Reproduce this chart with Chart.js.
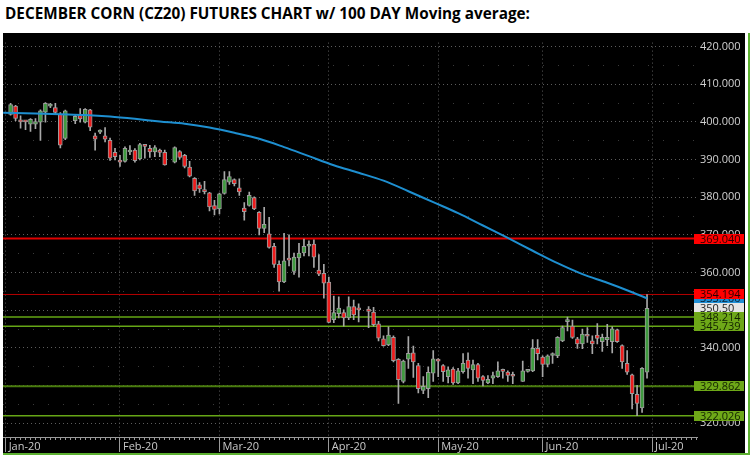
<!DOCTYPE html>
<html>
<head>
<meta charset="utf-8">
<script src="https://cdn.jsdelivr.net/npm/chart.js@4.4.0/dist/chart.umd.min.js"></script>
<style>
  html, body { margin: 0; padding: 0; background: #fff; }
  body { width: 753px; height: 461px; position: relative; overflow: hidden; }
  #title { position: absolute; left: 5px; top: 3px; font: bold 15.3px "Open Sans", sans-serif; color: #000; white-space: nowrap; }
  #panel { position: absolute; left: 3px; top: 33px; width: 742px; height: 420px; background: #000; }
  #edgeR { position: absolute; left: 748px; top: 33px; width: 2px; height: 422px; background: #5cb030; }
  #edgeB { position: absolute; left: 3px; top: 453px; width: 747px; height: 2px; background: #5cb030; }
</style>
</head>
<body>
<div id="title">DECEMBER CORN (CZ20) FUTURES CHART w/ 100 DAY Moving average:</div>
<div id="panel"><canvas id="chart" width="742" height="420"></canvas></div>
<div id="edgeR"></div>
<div id="edgeB"></div>
<script>
// one slot per weekday from Jan 2 2020 to Jun 30 2020, null = exchange holiday
const opens = [
  402.0, 404.2, 400.2, 400.1, 399.4, 399.4, 399.9, 402.6, 404.2, 403.8,
  402.0, 395.6, null, 400.3, 402.0, 399.9, 403.2, 396.3, 397.3, 396.3,
  395.1, 391.9, 389.7, 389.5, 392.0, 392.5, 390.2, 393.8, 393.0, 392.0,
  392.5, 391.9, null, 389.3, 392.1, 391.1, 388.0, 385.0, 383.3, 381.9,
  381.2, 377.8, 376.9, 381.0, 384.0, 384.7, 382.5, 377.1, 377.8, 379.9,
  376.0, 371.7, 370.3, 367.0, 362.2, 357.5, 363.6, 360.3, 363.9, 365.2,
  367.0, 367.6, 360.7, 359.8, 357.5, 347.5, 349.1, 349.4, 348.0, 351.0,
  350.6, null, 350.3, 349.5, 346.4, 342.4, 340.8, 342.8, 337.0, 331.1,
  337.0, 338.7, 335.3, 328.7, 329.2, 333.3, 337.0, 335.3, 332.4, 334.4,
  330.7, 333.7, 336.8, 334.2, 335.6, 332.4, 330.7, 332.0, 332.4, 334.3,
  333.6, 332.7, null, 331.1, 333.8, 333.9, 339.9, 337.6, 335.6, 338.0,
  337.9, 341.9, 347.0, 345.8, 342.4, 341.1, 343.2, 341.9, 343.4, 341.7,
  342.2, 341.7, 344.8, 340.6, 335.9, 332.9, 327.7, 324.1, 333.6
];
const highs = [
  404.9, 404.4, 401.6, 400.3, 400.9, 400.9, 403.2, 405.1, 404.9, 404.9,
  402.5, 403.1, null, 402.0, 403.5, 403.5, 403.3, 397.0, 397.9, 398.5,
  395.7, 393.0, 391.1, 393.4, 393.7, 392.9, 394.3, 394.0, 393.8, 393.7,
  392.8, 392.5, null, 393.4, 392.4, 391.4, 389.5, 385.2, 383.9, 384.2,
  381.3, 379.2, 381.1, 386.8, 386.8, 384.9, 384.9, 378.6, 381.4, 380.1,
  376.2, 377.3, 374.7, 367.8, 363.1, 370.4, 370.0, 365.2, 367.8, 368.9,
  368.4, 368.7, 364.8, 362.2, 358.8, 353.8, 353.6, 350.1, 353.6, 352.7,
  351.7, null, 351.0, 350.8, 347.1, 343.2, 345.6, 343.2, 337.2, 336.8,
  343.0, 340.5, 335.9, 332.4, 335.0, 339.3, 337.2, 335.6, 335.0, 334.8,
  334.6, 338.5, 338.7, 336.8, 335.9, 332.7, 332.7, 333.6, 336.3, 334.4,
  333.9, 333.6, null, 336.5, 334.2, 342.2, 342.2, 337.9, 338.2, 338.7,
  343.0, 345.8, 348.2, 347.4, 342.8, 345.0, 345.4, 343.2, 346.5, 343.7,
  346.3, 345.6, 345.0, 340.8, 339.3, 333.1, 330.1, 334.8, 354.2
];
const lows = [
  401.8, 400.3, 398.3, 397.9, 397.5, 398.2, 395.1, 399.9, 403.8, 402.0,
  393.1, 395.3, null, 399.5, 399.9, 399.7, 397.7, 392.5, 396.9, 394.7,
  389.8, 389.9, 388.2, 389.3, 391.3, 389.3, 389.9, 390.4, 390.6, 390.8,
  390.8, 388.5, null, 389.1, 390.1, 387.8, 385.4, 380.5, 381.3, 380.9,
  376.4, 375.3, 375.6, 380.8, 383.4, 383.0, 380.5, 373.9, 377.6, 376.7,
  370.0, 370.6, 366.5, 361.4, 355.1, 357.3, 361.8, 359.5, 358.8, 364.4,
  364.4, 361.4, 359.2, 353.2, 346.7, 346.7, 348.0, 345.8, 347.5, 347.5,
  346.9, null, 345.4, 345.8, 341.9, 340.5, 340.6, 336.3, 325.3, 330.7,
  334.6, 332.2, 328.1, 327.9, 326.8, 331.1, 332.4, 331.1, 330.7, 330.3,
  330.5, 333.3, 332.0, 330.5, 331.1, 329.9, 330.5, 330.5, 332.2, 332.0,
  331.1, 330.5, null, 331.1, 333.6, 333.7, 336.8, 332.4, 335.0, 335.9,
  337.4, 341.7, 344.5, 342.5, 339.9, 339.8, 341.5, 338.5, 341.1, 339.1,
  340.6, 338.7, 341.5, 334.6, 333.0, 323.8, 322.03, 322.9, 332.0
];
const closes = [
  404.6, 400.9, 400.0, 400.0, 400.7, 400.1, 402.9, 404.9, 404.7, 402.5,
  393.8, 402.9, null, 401.5, 400.8, 403.3, 398.6, 395.4, 397.7, 395.4,
  390.4, 390.8, 389.3, 393.0, 392.5, 389.7, 394.0, 393.5, 392.0, 393.2,
  391.9, 388.6, null, 393.2, 390.6, 388.2, 385.6, 381.7, 382.2, 381.5,
  377.4, 376.8, 380.9, 384.7, 385.5, 383.6, 381.4, 376.2, 380.5, 376.9,
  371.7, 372.8, 366.7, 362.2, 357.5, 363.1, 363.3, 364.1, 365.2, 367.0,
  367.1, 364.1, 359.6, 357.2, 346.8, 349.4, 350.6, 348.0, 351.0, 348.8,
  350.1, null, 349.7, 346.2, 342.6, 340.6, 343.4, 336.6, 331.6, 336.5,
  338.6, 336.3, 329.2, 329.8, 333.5, 337.1, 336.5, 333.7, 334.2, 330.7,
  333.9, 335.9, 334.6, 335.6, 332.0, 331.4, 331.7, 332.7, 333.9, 333.8,
  332.7, 332.5, null, 333.9, 334.0, 339.9, 338.5, 335.6, 337.9, 338.5,
  342.8, 345.4, 347.5, 342.8, 341.1, 343.7, 343.1, 341.1, 342.5, 342.8,
  342.8, 345.1, 341.7, 336.3, 333.6, 327.9, 325.3, 334.6, 350.5
];

// 100 day moving average at sample slots
const maIdx = [-1.5, 5, 10, 15, 20, 25, 30, 35, 40, 45, 50, 55, 60, 65,
  70, 75, 80, 85, 90, 95, 100, 105, 110, 115, 120, 125, 128];
const maVals = [402.4, 402.2, 402.0, 401.8, 401.4, 400.8, 400.1, 399.5, 398.5, 397.1, 395.5, 393.3, 390.9, 388.5,
  386.5, 384.4, 381.6, 378.7, 375.8, 372.5, 369.2, 365.8, 362.5, 359.6, 357.3, 354.8, 353.2];

// horizontal levels drawn on the chart
const levelValues = [369.040, 354.194, 348.214, 345.739, 329.862, 322.026];

// axis ticks
const monthTickIdx = [-1, 22, 42, 64, 86, 107, 129];
const monthLabels = ['Jan-20', 'Feb-20', 'Mar-20', 'Apr-20', 'May-20', 'Jun-20', 'Jul-20'];
const yMajorTicks = [320, 330, 340, 350, 360, 370, 380, 390, 400, 410, 420];
const yMinorTicks = [325, 335, 345, 355, 365, 375, 385, 395, 405, 415];

const X_MIN = -1.53, X_MAX = 138.05;
const Y_MIN = 316.37, Y_MAX = 421.04;

const UP = '#3f9a3f', DOWN = '#ee1c1c';
const levelLineColors = ['#e00000', '#b40000', '#4a7c0e', '#66a616', '#4a7c0e', '#66a616'];
const levelLineWidths = [2, 1, 2, 1.5, 2, 1.5];
const levelBoxColors = ['#ff0000', '#ff0000', '#6ea818', '#6ea818', '#6ea818', '#6ea818'];
const levelInkColors = ['#2a0000', '#2a0000', '#122200', '#122200', '#122200', '#122200'];

const slots = [];
opens.forEach((o, i) => { if (o !== null) slots.push(i); });
const lastSlot = slots[slots.length - 1];

const wickData = slots.map(i => ({ x: i, y: [lows[i], highs[i]] }));
const bodyData = slots.map(i => ({ x: i, y: [opens[i], closes[i]] }));
const bodyColors = slots.map(i => closes[i] >= opens[i] ? UP : DOWN);
const maData = maIdx.map((x, k) => ({ x: x, y: maVals[k] }));

const levelSets = levelValues.map((v, k) => ({
  type: 'line',
  data: [{ x: X_MIN, y: v }, { x: X_MAX, y: v }],
  borderColor: levelLineColors[k],
  borderWidth: levelLineWidths[k],
  pointRadius: 0,
  xAxisID: 'x',
  order: 5
}));

// coloured value boxes on the price axis
const levelLabels = {
  id: 'levelLabels',
  afterDraw(chart) {
    const ctx = chart.ctx;
    const y = chart.scales.y;
    const maLast = maVals[maVals.length - 1];
    const boxes = [
      { v: maLast, text: maLast.toFixed(3), fill: '#1f8ed4', ink: '#0b2233' },
      { v: closes[lastSlot], text: closes[lastSlot].toFixed(2), fill: '#e4e4e4', ink: '#222222' }
    ];
    levelValues.forEach((v, k) => boxes.push({ v: v, text: v.toFixed(3), fill: levelBoxColors[k], ink: levelInkColors[k] }));
    ctx.save();
    ctx.font = '11px "Open Sans"';
    ctx.textBaseline = 'middle';
    boxes.forEach(b => {
      const py = Math.round(y.getPixelForValue(b.v));
      ctx.fillStyle = b.fill;
      ctx.fillRect(y.left - 3, py - 5, 50, 10);
      ctx.fillStyle = b.ink;
      ctx.fillText(b.text, y.left + 3, py + 0.5);
    });
    ctx.restore();
  }
};

const isMajor = v => yMajorTicks.indexOf(v) >= 0;

new Chart(document.getElementById('chart'), {
  type: 'bar',
  data: {
    datasets: [
      {
        type: 'line',
        data: maData,
        borderColor: '#1e8fd0',
        borderWidth: 2,
        pointRadius: 0,
        cubicInterpolationMode: 'monotone',
        xAxisID: 'x',
        order: 1
      },
      {
        data: bodyData,
        backgroundColor: bodyColors,
        borderColor: '#9c9c9c',
        borderWidth: 1,
        borderSkipped: false,
        barThickness: 4,
        minBarLength: 2,
        grouped: false,
        xAxisID: 'x',
        order: 2
      },
      {
        data: wickData,
        backgroundColor: '#a8a8a8',
        borderWidth: 0,
        barThickness: 1,
        grouped: false,
        xAxisID: 'x',
        order: 3
      },
      ...levelSets
    ]
  },
  options: {
    responsive: false,
    animation: false,
    layout: { padding: 0 },
    plugins: {
      legend: { display: false },
      tooltip: { enabled: false },
      title: { display: false }
    },
    scales: {
      x: {
        type: 'linear',
        position: 'bottom',
        weight: 1,
        min: X_MIN,
        max: X_MAX,
        offset: false,
        afterBuildTicks: s => { s.ticks = monthTickIdx.map(v => ({ value: v })); },
        afterFit: s => { s.height = 13; },
        ticks: {
          autoSkip: false,
          maxRotation: 0,
          align: 'start',
          labelOffset: 3,
          padding: -12,
          color: '#c8c8c8',
          font: { family: 'Open Sans', size: 11 },
          callback: (v, k) => monthLabels[k]
        },
        grid: { offset: false, color: '#5a5a5a', tickColor: '#9a9a9a', tickLength: 12 },
        border: { display: false, dash: [1, 3] }
      },
      xr: {
        type: 'linear',
        position: 'bottom',
        weight: 0,
        min: X_MIN,
        max: X_MAX,
        offset: false,
        afterBuildTicks: s => {
          const t = [];
          for (let i = -1; i <= 138; i++) t.push({ value: i });
          s.ticks = t;
        },
        afterFit: s => { s.height = 3; },
        ticks: { display: false },
        grid: { offset: false, drawOnChartArea: false, tickLength: 3, tickColor: '#9a9a9a' },
        border: { display: true, color: '#9a9a9a' }
      },
      y: {
        type: 'linear',
        position: 'right',
        min: Y_MIN,
        max: Y_MAX,
        afterBuildTicks: s => {
          s.ticks = yMajorTicks.concat(yMinorTicks).sort((a, b) => a - b).map(v => ({ value: v }));
        },
        afterFit: s => { s.width = 48; },
        ticks: {
          autoSkip: false,
          padding: 3,
          color: '#d0d0d0',
          font: { family: 'Open Sans', size: 11 },
          callback: v => isMajor(v) ? v.toFixed(3) : ''
        },
        grid: {
          drawTicks: false,
          color: c => isMajor(c.tick.value) ? '#5c5c5c' : '#3a3a3a'
        },
        border: {
          display: false,
          dash: c => isMajor(c.tick.value) ? [1, 3] : [1, 14]
        }
      }
    }
  },
  plugins: [levelLabels]
});
</script>
</body>
</html>
